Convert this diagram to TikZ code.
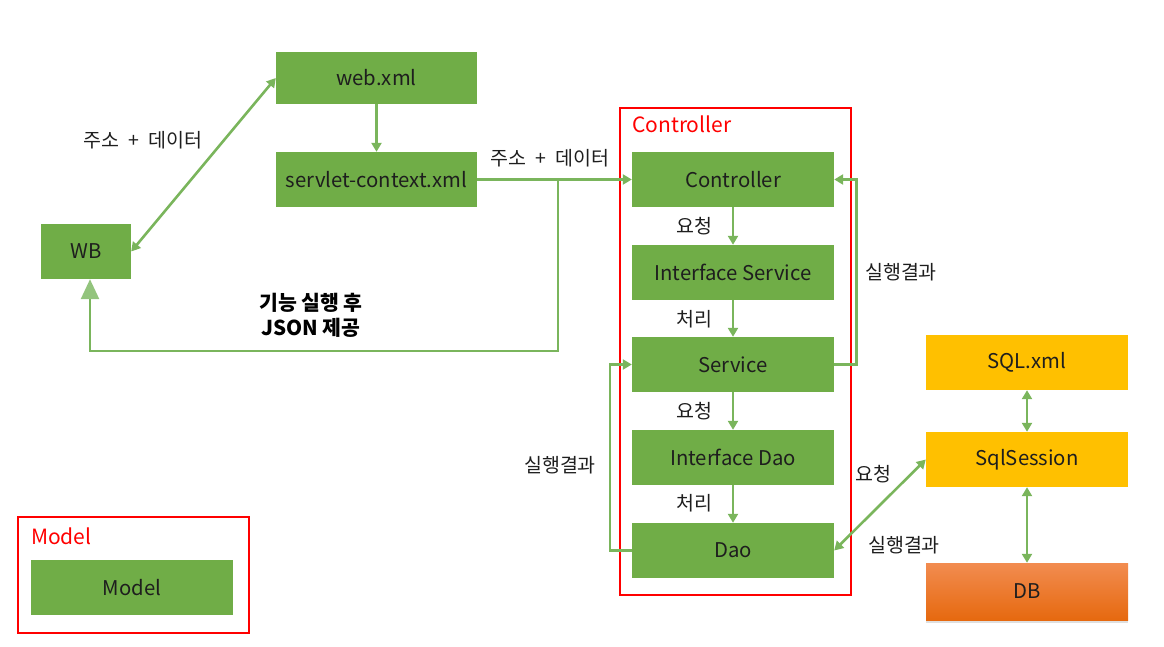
\documentclass[tikz,border=0pt]{standalone}
\usepackage{fontspec}
\setmainfont{Noto Sans CJK KR}
\usetikzlibrary{arrows.meta,shadows}
\definecolor{gfill}{HTML}{70AD47}
\definecolor{gline}{HTML}{7AB55C}
\definecolor{gtip}{HTML}{93C47D}
\definecolor{yfill}{HTML}{FFC000}
\definecolor{otop}{HTML}{F28C50}
\definecolor{obot}{HTML}{E6690F}
\definecolor{txt}{HTML}{1E1E1E}
\tikzset{
  gbox/.style={fill=gfill, draw=none, minimum width=202pt, minimum height=55pt, inner sep=0pt, text=txt, font=\fontsize{20.3}{23}\selectfont},
  ybox/.style={gbox, fill=yfill},
  frame/.style={draw=red, line width=2pt},
  ftitle/.style={text=red, font=\fontsize{21}{24}\selectfont, anchor=west, inner sep=0pt},
  conn/.style={draw=gline, line width=2.6pt, -{Triangle[length=9pt,width=10pt]}},
  dconn/.style={draw=gline, line width=2.6pt, {Triangle[length=9pt,width=10pt]}-{Triangle[length=9pt,width=10pt]}},
  lbl/.style={text=txt, font=\fontsize{19.5}{22}\selectfont, inner sep=0pt},
}
\newcommand{\plusgap}{\hspace{0.45em}+\hspace{0.45em}}
\begin{document}
\begin{tikzpicture}[x=1pt,y=-1pt]
\useasboundingbox (0,0) rectangle (1164,647);
% frames
\draw[frame] (620,108) rectangle (851,595);
\node[ftitle] (ctitle) at (632,124) {Controller};
\draw[frame] (18,517) rectangle (249,633);
\node[ftitle] (mtitle) at (31,536) {Model};
% boxes
\node[gbox, minimum width=90pt] (wb) at (86,251.5) {WB};
\node[gbox, minimum width=201pt, minimum height=52pt] (web) at (376.5,78) {web.xml};
\node[gbox, minimum width=201pt] (sc) at (376.5,179.5) {servlet-context.xml};
\node[gbox] (ctrl) at (733,179.5) {Controller};
\node[gbox] (isvc) at (733,272.5) {Interface Service};
\node[gbox] (svc) at (733,364.5) {Service};
\node[gbox] (idao) at (733,457.5) {Interface Dao};
\node[gbox] (dao) at (733,550.5) {Dao};
\node[gbox] (model) at (132,587.5) {Model};
\node[ybox] (sqlxml) at (1027,362.5) {SQL.xml};
\node[ybox] (sess) at (1027,459.5) {SqlSession};
\node[gbox, fill=none, top color=otop, bottom color=obot, minimum height=57pt, drop shadow={shadow xshift=0pt, shadow yshift=-3pt, opacity=0.25}] (db) at (1027,591.5) {DB};
% connectors
\draw[dconn] (wb.east) -- (web.west);
\draw[conn] (web.south) -- (sc.north);
\coordinate (j) at (558,179.5);
\coordinate (r) at (90,351);
\draw[conn] (sc.east) -- (ctrl.west);
\draw[draw=gline, line width=2.6pt, -{Triangle[length=20pt,width=18pt,color=gtip]}] (j) |- (r) -- (r |- wb.south);
\draw[conn] (ctrl.south) -- (isvc.north);
\draw[conn] (isvc.south) -- (svc.north);
\draw[conn] (svc.south) -- (idao.north);
\draw[conn] (idao.south) -- (dao.north);
\draw[conn] (svc.east) -- ++(22,0) |- (ctrl.east);
\draw[conn] (dao.west) -- ++(-22,0) |- (svc.west);
\draw[dconn] (dao.east) -- (sess.west);
\draw[dconn] (sqlxml.south) -- (sess.north);
\draw[dconn] (sess.south) -- (db.north);
% labels
\node[lbl] (l1) at (143,140) {주소\plusgap 데이터};
\node[lbl] (l2) at (550,158) {주소\plusgap 데이터};
\node[lbl, font=\fontsize{20.5}{25}\selectfont\bfseries, align=center, text=black] (l3) at (311,315) {기능 실행 후\\JSON 제공};
\node[lbl] (l4) at (694,226) {요청};
\node[lbl] (l5) at (694,319) {처리};
\node[lbl] (l6) at (694,411) {요청};
\node[lbl] (l7) at (694,503) {처리};
\node[lbl] (l8) at (901,272) {실행결과};
\node[lbl] (l9) at (560,465) {실행결과};
\node[lbl] (l10) at (873,474) {요청};
\node[lbl] (l11) at (904,545) {실행결과};
\end{tikzpicture}
\end{document}
